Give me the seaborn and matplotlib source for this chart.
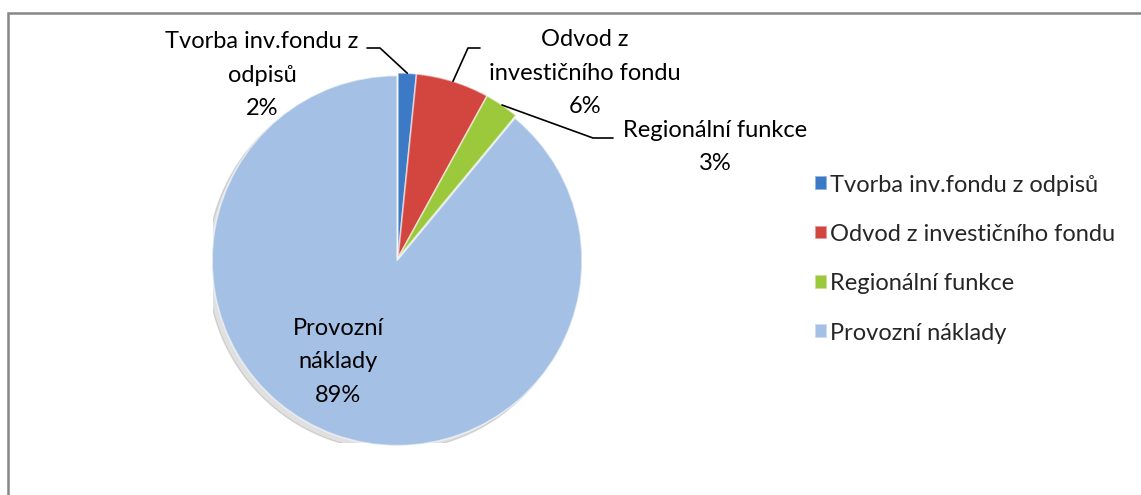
import numpy as np
import seaborn as sns
import matplotlib.pyplot as plt
from matplotlib.patches import Rectangle

# Data
kategorie = ["Tvorba inv.fondu z odpisů", "Odvod z investičního fondu",
             "Regionální funkce", "Provozní náklady"]
popisky = ["Tvorba inv.fondu z\nodpisů", "Odvod z\ninvestičního fondu",
           "Regionální funkce", "Provozní\nnáklady"]
podily = [1.6, 6.4, 3.0, 89.0]
barvy = ["#3C7AC6", "#D3453F", "#9CC83C", "#A4C0E5"]

sns.set_theme(style="white")
plt.rcParams['font.family'] = ['Lato', 'DejaVu Sans']

fig = plt.figure(figsize=(11.41, 4.95), dpi=100)
W, H = 1141, 495
cx, cy, r = 398, 258, 185
ax = fig.add_axes([(cx - r) / W, (H - cy - r) / H, 2 * r / W, 2 * r / H])

# stin pod kolacem
ax.add_patch(plt.Circle((-0.03, -0.04), 1.0, color="#000000", alpha=0.12, zorder=0))

wedges, _ = ax.pie(podily, colors=barvy, startangle=90, counterclock=False,
                   explode=[0, 0, 0, 0.015], radius=1.0,
                   wedgeprops=dict(edgecolor=(1, 1, 1, 0.55), linewidth=1.2))
ax.set_xlim(-1, 1)
ax.set_ylim(-1, 1)
ax.set_aspect("equal")
ax.axis("off")

def px(x, y):
    return (x - cx) / r, (cy - y) / r

# umisteni popisku a lomenych car (px)
pozice = [(262, 75), (585, 73), (715, 147), (338, 362)]
lomeni = [((380, 48), (367, 48)), ((468, 48), (480, 48)), ((593, 138), (613, 138)), None]

celkem = sum(podily)
for w, lab, val, pos, lom in zip(wedges, popisky, podily, pozice, lomeni):
    pct = f"{val / celkem * 100:.0f}%"
    tx, ty = px(*pos)
    ax.text(tx, ty, f"{lab}\n{pct}", ha="center", va="center", fontsize=17,
            color="black", linespacing=1.75)
    if lom is not None:
        ang = np.deg2rad((w.theta1 + w.theta2) / 2)
        rx, ry = np.cos(ang), np.sin(ang)
        ex, ey = px(*lom[0])
        kx, ky = px(*lom[1])
        ax.plot([rx, ex, kx], [ry, ey, ky], color="black", lw=1.2, clip_on=False)

ax.legend(wedges, kategorie, loc="center left",
          bbox_to_anchor=((815 - (cx - r)) / (2 * r), (cy - 259) / (2 * r) + 0.5),
          frameon=False, fontsize=17, handlelength=0.5, handleheight=0.5,
          handletextpad=0.15, labelspacing=1.2, borderaxespad=0, borderpad=0)

# ramecek grafu
fig.patches.append(Rectangle((8 / W, -0.05), 1.1, (H - 13) / H + 0.05,
                             transform=fig.transFigure, fill=False,
                             edgecolor="#878787", linewidth=1.8))

plt.savefig("out.png", dpi=100)
